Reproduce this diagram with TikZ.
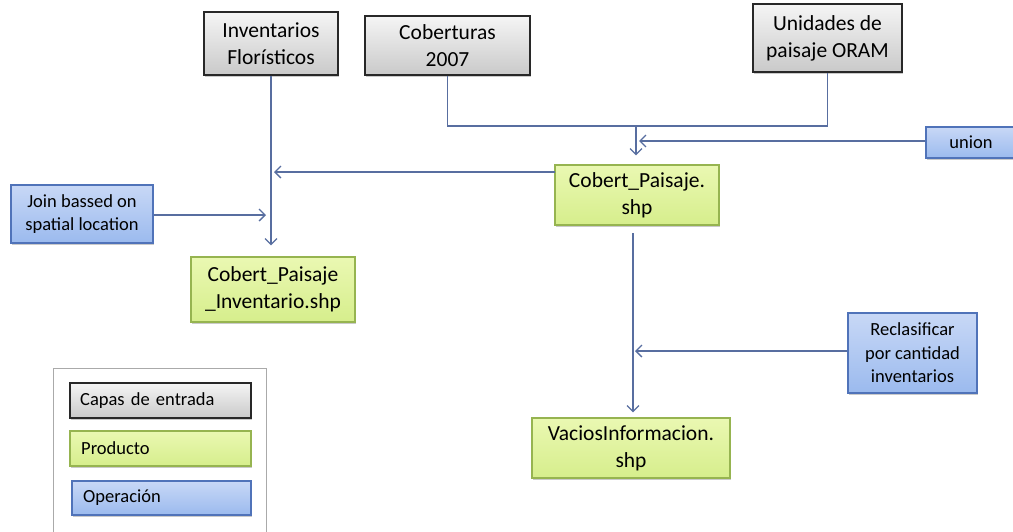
\documentclass[tikz,border=0pt]{standalone}
\usepackage{fontspec}
\setmainfont{Carlito}
\usetikzlibrary{arrows.meta,shadows}
\definecolor{conn}{RGB}{88,110,160}
\definecolor{grayedge}{RGB}{40,40,40}
\definecolor{greenedge}{RGB}{150,180,80}
\definecolor{greentop}{RGB}{234,248,178}
\definecolor{greenbot}{RGB}{214,238,140}
\definecolor{blueedge}{RGB}{80,115,185}
\definecolor{bluetop}{RGB}{200,216,246}
\definecolor{bluebot}{RGB}{155,186,238}
\definecolor{legendedge}{RGB}{170,170,170}
\tikzset{
  base/.style={rectangle, align=center, inner sep=2pt,
    drop shadow={shadow xshift=1.2pt, shadow yshift=-1.5pt, fill=black!35, opacity=0.6}},
  inbox/.style={base, draw=grayedge, line width=1.4pt, top color=gray!8, bottom color=gray!42,
    font=\fontsize{21.5}{27}\selectfont},
  prodbox/.style={base, draw=greenedge, line width=1.1pt, top color=greentop, bottom color=greenbot,
    font=\fontsize{21.5}{27}\selectfont},
  opbox/.style={base, draw=blueedge, line width=1.1pt, top color=bluetop, bottom color=bluebot,
    font=\fontsize{18.5}{23.5}\selectfont},
  leg/.style={font=\fontsize{18.5}{23}\selectfont, align=left, text width=#1},
  conline/.style={draw=conn, line width=1.3pt},
  arr/.style={conline, -{Straight Barb[length=6pt,width=12pt,line width=1.3pt]}},
}
\begin{document}
\begin{tikzpicture}[x=1pt,y=-1pt]
\useasboundingbox (0,0) rectangle (1013,531);
% input layers
\node[inbox, minimum width=134pt, minimum height=63pt] (inv) at (271,43.5) {Inventarios\\Florísticos};
\node[inbox, minimum width=165pt, minimum height=59pt] (cob) at (447.5,45.5) {Coberturas\\2007};
\node[inbox, minimum width=149pt, minimum height=68pt] (uni) at (827.5,38) {Unidades de\\paisaje ORAM};
% operations
\node[opbox, minimum width=90pt, minimum height=31pt] (union) at (971,142.5) {union};
\node[opbox, minimum width=142pt, minimum height=58pt] (join) at (82,214) {Join bassed on\\spatial location};
\node[opbox, minimum width=129pt, minimum height=80pt] (recl) at (912.5,353) {Reclasificar\\por cantidad\\inventarios};
% products
\node[prodbox, minimum width=164pt, minimum height=60pt] (cp) at (637,195) {Cobert\_Paisaje.\\shp};
\node[prodbox, minimum width=164pt, minimum height=65pt] (cpi) at (273,289.5) {Cobert\_Paisaje\\\_Inventario.shp};
\node[prodbox, minimum width=198pt, minimum height=60pt] (vac) at (631,448) {VaciosInformacion.\\shp};
% junction coordinates
\coordinate (m) at (636,126);
\coordinate (mu) at (636,141);
\coordinate (ji) at (271,172);
\coordinate (jj) at (271,215);
\coordinate (cpw) at (555,172);
\coordinate (cps) at (633,225);
\coordinate (vr) at (633,351);
% connectors
\draw[arr, shorten >=11pt] (inv.south) -- (inv.south |- cpi.north);
\draw[conline] (cob.south) |- (uni.south |- m) -- (uni.south);
\draw[arr, shorten >=9pt] (m) -- (m |- cp.north);
\draw[arr, shorten >=3pt] (union.west |- mu) -- (mu);
\draw[arr, shorten >=3pt] (cpw) -- (ji);
\draw[arr, shorten >=5pt] (join.east |- jj) -- (jj);
\draw[arr, shorten <=8pt, shorten >=5pt] (cps) -- (cps |- vac.north);
\draw[arr, shorten >=2pt] (recl.west |- vr) -- (vr);
% legend
\draw[legendedge, line width=1pt] (53,535) -- (53,368) -- (266,368) -- (266,535);
\node[inbox, minimum width=181pt, minimum height=35pt, inner sep=0pt] (lg1) at (160.5,400.5) {};
\node[prodbox, minimum width=181pt, minimum height=35pt, inner sep=0pt] (lg2) at (160.5,448.5) {};
\node[opbox, minimum width=179pt, minimum height=34pt, inner sep=0pt] (lg3) at (161.5,498) {};
\node[leg=170pt, anchor=west, inner sep=0pt] (lt1) at (80,400.5) {Capas de entrada};
\node[leg=170pt, anchor=west, inner sep=0pt] (lt2) at (81,448.5) {Producto};
\node[leg=170pt, anchor=west, inner sep=0pt] (lt3) at (83,498) {Operación};
\end{tikzpicture}
\end{document}
